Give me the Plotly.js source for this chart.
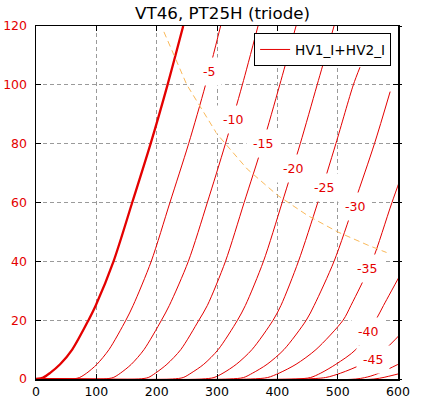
<!DOCTYPE html>
<html><head><meta charset="utf-8">
<script src="https://cdn.plot.ly/plotly-3.0.1.min.js"></script>
<style>html,body{margin:0;padding:0;background:#fff}</style>
</head><body><div id="chart" style="width:421px;height:399px"></div>
<script>
// Grid voltages (V) of the drawn curves
const gridVolts = [0, -5, -10, -15, -20, -25, -30, -35, -40, -45, -50, -55];
// Plate voltage (V) / plate current (mA), one pair per curve
const va_g0   = [0, 12, 23, 40, 60, 87, 99, 128.5, 159.5, 190, 218, 244];
const ia_g0   = [0, 0.5, 2, 5, 10, 20, 25, 40, 60, 80, 100, 120];
const va_g5   = [0, 60, 72, 84, 101, 121, 149, 161, 191, 222, 253, 281, 306];
const ia_g5   = [0, 0, 0.5, 2, 5, 10, 20, 25, 40, 60, 80, 100, 120];
const va_g10  = [0, 112, 128, 140, 158, 179, 208, 221, 252.5, 284, 314, 342, 368];
const ia_g10  = [0, 0, 0.5, 2, 5, 10, 20, 25, 40, 60, 80, 100, 120];
const va_g15  = [0, 170, 186, 198, 217, 240, 270, 284, 314, 345, 376, 404, 431];
const ia_g15  = [0, 0, 0.5, 2, 5, 10, 20, 25, 40, 60, 80, 100, 120];
const va_g20  = [0, 226, 244, 257, 278, 302, 334, 347, 377, 408, 438, 466, 494];
const ia_g20  = [0, 0, 0.5, 2, 5, 10, 20, 25, 40, 60, 80, 100, 120];
const va_g25  = [0, 275, 295, 310, 332, 358, 393, 406, 435, 467, 497, 526, 537];
const ia_g25  = [0, 0, 0.5, 2, 5, 10, 20, 25, 40, 60, 80, 100, 106];
const va_g30  = [0, 320, 344, 359, 383, 411, 448, 461, 494, 528, 561, 587];
const ia_g30  = [0, 0, 0.5, 2, 5, 10, 20, 25, 40, 60, 80, 97.7];
const va_g35  = [0, 355, 384, 403, 431, 464, 509, 522, 557, 590, 625];
const ia_g35  = [0, 0, 0.5, 2, 5, 10, 20, 25, 40, 60, 80];
const va_g40  = [0, 430, 455, 472, 497, 530, 563, 576, 616];
const ia_g40  = [0, 0, 0.5, 2, 5, 10, 20, 25, 40];
const va_g45  = [0, 440, 480, 505, 540, 578, 625];
const ia_g45  = [0, 0, 0.5, 2, 5, 10, 20];
const va_g50  = [0, 530, 555, 580, 610];
const ia_g50  = [0, 0, 1, 3, 6];
const va_g55  = [0, 560, 590, 620];
const ia_g55  = [0, 0, 1.2, 2.8];
// 25 W dissipation line
const pd_va = [212, 250, 300, 350, 400, 450, 500, 550, 581];
const pd_ia = [118, 100, 83.3, 71.4, 62.5, 55.6, 50, 45.5, 43];
// Curve labels (grid voltage text, position on its curve)
const labelText = ['-5', '-10', '-15', '-20', '-25', '-30', '-35', '-40', '-45'];
const labelVa   = [286.8, 327, 376.8, 426.5, 477.9, 528.7, 549.1, 549.8, 559.1];
const labelIa   = [104.5, 88.3, 80.1, 71.4, 65.0, 58.8, 37.5, 16.0, 6.7];
const tickX = [0, 100, 200, 300, 400, 500, 600];
const tickY = [0, 20, 40, 60, 80, 100, 120];

const curvesV = [va_g0, va_g5, va_g10, va_g15, va_g20, va_g25, va_g30, va_g35, va_g40, va_g45, va_g50, va_g55];
const curvesI = [ia_g0, ia_g5, ia_g10, ia_g15, ia_g20, ia_g25, ia_g30, ia_g35, ia_g40, ia_g45, ia_g50, ia_g55];

const RED = 'rgb(228,0,0)';
const traces = [];
traces.push({x: pd_va, y: pd_ia, yaxis: 'y2', mode: 'lines', showlegend: false, hoverinfo: 'skip',
  line: {color: 'rgb(250,185,90)', width: 1, dash: '6px,4px'}});
gridVolts.forEach((g, i) => {
  traces.push({
    x: curvesV[i], y: curvesI[i], mode: 'lines', name: 'HV1_I+HV2_I',
    showlegend: i === 1, hoverinfo: 'skip',
    line: {color: RED, width: g === 0 ? 2.3 : 1, shape: 'spline', smoothing: 0.8}
  });
});

const annotations = labelText.map((t, i) => ({
  x: labelVa[i], y: labelIa[i], xref: 'x', yref: 'y', text: t, showarrow: false,
  font: {family: 'DejaVu Sans', size: 12.5, color: RED},
  bgcolor: 'white', borderpad: 6
}));

const axisCommon = {
  showgrid: true, gridcolor: '#9a9a9a', griddash: '4px,3px', gridwidth: 1,
  ticks: 'inside', ticklen: 5, tickwidth: 1, tickcolor: 'black',
  showline: true, linecolor: 'black', linewidth: 1.5, mirror: 'ticks',
  zeroline: false, fixedrange: true
};
const layout = {
  width: 421, height: 399,
  margin: {l: 36, r: 23, t: 26, b: 20},
  paper_bgcolor: 'white', plot_bgcolor: 'white',
  font: {family: 'DejaVu Sans'},
  title: {text: 'VT46, PT25H (triode)', font: {family: 'DejaVu Sans', size: 16.7, color: 'black'},
    x: 217/421, xanchor: 'center', xref: 'paper', y: 1 - 13/399, yanchor: 'middle', yref: 'container'},
  xaxis: Object.assign({}, axisCommon, {range: [0, 600], tickvals: tickX,
    ticklabelstandoff: 0, tickfont: {family: 'DejaVu Sans', size: 12.5, color: 'black'}}),
  yaxis: Object.assign({}, axisCommon, {range: [0, 120], tickvals: tickY,
    ticklabelstandoff: 5, tickfont: {family: 'DejaVu Sans', size: 12.5, color: RED}}),
  yaxis2: {overlaying: 'y', side: 'right', range: [0, 120], tickvals: tickY, showticklabels: false,
    ticks: 'outside', ticklen: 3, tickwidth: 1, tickcolor: 'black', showgrid: false, zeroline: false,
    showline: false, fixedrange: true},
  legend: {x: 0.981, xanchor: 'right', y: 0.98, yanchor: 'top', bgcolor: 'white',
    bordercolor: 'black', borderwidth: 1, font: {family: 'DejaVu Sans', size: 13.7, color: 'black'}},
  showlegend: true,
  annotations: annotations
};
Plotly.newPlot('chart', traces, layout, {staticPlot: true, displayModeBar: false});
</script></body></html>
